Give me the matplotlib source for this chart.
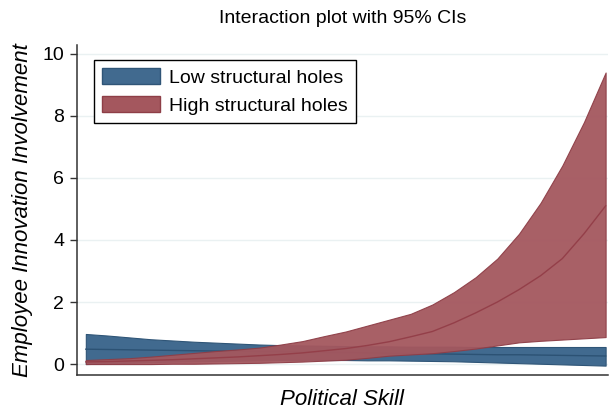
import numpy as np
import matplotlib.pyplot as plt
from matplotlib.patches import Patch

plt.rcParams['font.family'] = ['Liberation Sans', 'DejaVu Sans']

# political skill (arbitrary units, no tick labels in the original)
skill = list(range(25))

# low structural holes: prediction and 95% CI
low_mid = [0.48, 0.47, 0.46, 0.45, 0.44, 0.43, 0.42, 0.42, 0.41, 0.40, 0.39, 0.38, 0.37,
           0.36, 0.35, 0.34, 0.33, 0.32, 0.31, 0.30, 0.30, 0.29, 0.28, 0.27, 0.26]
low_hi = [0.97, 0.92, 0.86, 0.80, 0.76, 0.72, 0.69, 0.66, 0.63, 0.61, 0.60, 0.59, 0.58,
          0.57, 0.57, 0.56, 0.56, 0.56, 0.55, 0.55, 0.55, 0.55, 0.55, 0.55, 0.55]
low_lo = [0.00, 0.02, 0.04, 0.06, 0.08, 0.09, 0.10, 0.11, 0.12, 0.13, 0.13, 0.13, 0.13,
          0.12, 0.12, 0.11, 0.10, 0.09, 0.07, 0.05, 0.03, 0.01, -0.01, -0.03, -0.05]

# high structural holes: prediction and 95% CI
high_mid = [0.07, 0.08, 0.10, 0.12, 0.14, 0.17, 0.20, 0.23, 0.27, 0.31, 0.36, 0.43, 0.50,
            0.60, 0.72, 0.88, 1.05, 1.33, 1.65, 2.00, 2.40, 2.85, 3.40, 4.20, 5.10]
high_hi = [0.13, 0.16, 0.19, 0.24, 0.30, 0.36, 0.42, 0.47, 0.53, 0.63, 0.74, 0.90, 1.05,
           1.24, 1.43, 1.62, 1.92, 2.32, 2.80, 3.40, 4.20, 5.20, 6.40, 7.80, 9.40]
high_lo = [0.00, 0.00, 0.00, 0.00, 0.01, 0.01, 0.02, 0.03, 0.04, 0.06, 0.08, 0.11, 0.14,
           0.20, 0.27, 0.31, 0.35, 0.42, 0.50, 0.60, 0.70, 0.75, 0.79, 0.83, 0.87]

blue = '#416a8f'
red = '#a4575e'

fig = plt.figure(figsize=(6.09, 4.12), dpi=100)
ax = fig.add_axes([0.126, 0.09, 0.872, 0.801])

for v in [0, 2, 4, 6, 8, 10]:
    ax.axhline(v, color='#eaf1f2', lw=1.0, zorder=0)

ax.fill_between(skill, low_lo, low_hi, color=blue, lw=0.8, edgecolor='#2f5577', zorder=2)
ax.plot(skill, low_mid, color='#2c5274', lw=1.0, zorder=3)
ax.fill_between(skill, high_lo, high_hi, color=red, alpha=0.95, lw=0.8, edgecolor='#8e3e47', zorder=4)
ax.plot(skill, high_mid, color='#943f49', lw=1.0, zorder=5)

ax.set_xlim(-0.42, 24.1)
ax.set_ylim(-0.35, 10.29)
ax.set_xticks([])
ax.set_yticks([0, 2, 4, 6, 8, 10])
ax.tick_params(axis='y', labelsize=14, length=5, width=1, color='#333333', pad=4)

for s in ['top', 'right']:
    ax.spines[s].set_visible(False)
for s in ['left', 'bottom']:
    ax.spines[s].set_color('#333333')
    ax.spines[s].set_linewidth(1.1)

ax.set_title('Interaction plot with 95% CIs', fontsize=14, pad=16)
ax.set_ylabel('Employee Innovation Involvement', fontsize=16, style='italic', labelpad=7)
ax.set_xlabel('Political Skill', fontsize=16, style='italic', labelpad=10)

handles = [Patch(facecolor=blue, edgecolor='#2f5577', label='Low structural holes'),
           Patch(facecolor=red, edgecolor='#8e3e47', label='High structural holes')]
leg = ax.legend(handles=handles, loc='upper left', bbox_to_anchor=(0.022, 0.972),
                fontsize=14, fancybox=False, edgecolor='black', framealpha=1,
                handlelength=3.0, handleheight=0.9, borderpad=0.4, labelspacing=0.5,
                handletextpad=0.45, borderaxespad=0.3)
leg.get_frame().set_linewidth(1.0)

fig.savefig('out.png', dpi=100)
